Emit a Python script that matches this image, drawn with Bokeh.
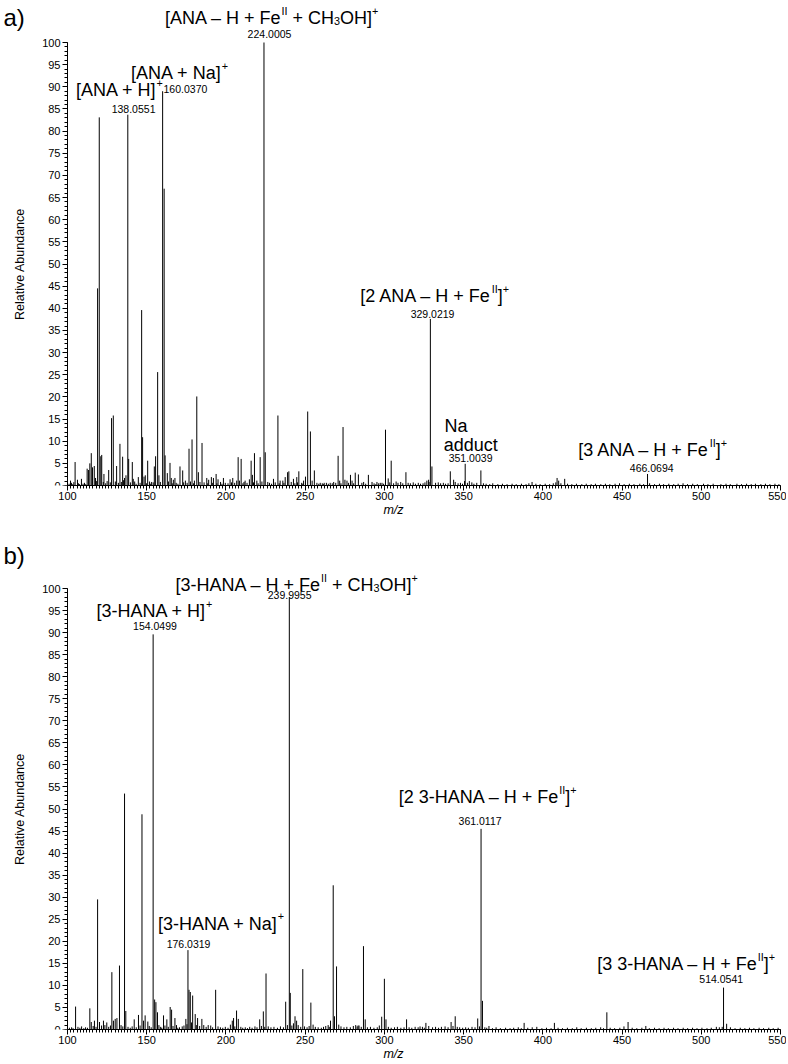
from bokeh.plotting import figure
from bokeh.layouts import column
from bokeh.models import Range1d, SingleIntervalTicker, Label
from bokeh.embed import file_html
from bokeh.resources import INLINE

FONT = "Liberation Sans"

# ---------------- data: spectrum a (ANA) ----------------
A_MZ = [101.9, 104.0, 104.8, 106.3, 108.8, 112.4, 113.3, 114.1, 115.0, 115.8, 116.9, 117.7,
        119.0, 120.04, 121.0, 121.6, 123.0, 126.0, 127.8, 128.9, 131.0, 133.1, 134.8, 136.0,
        136.9, 138.06, 138.6, 140.9, 141.5, 144.7, 146.8, 147.4, 148.3, 149.1, 150.6, 153.1,
        154.8, 155.6, 156.9, 157.7, 160.04, 161.0, 161.6, 163.0, 164.7, 165.5, 166.8, 167.8,
        171.0, 172.7, 174.4, 176.7, 178.6, 180.1, 181.6, 182.6, 184.9, 187.9, 189.1, 190.8,
        192.1, 193.8, 195.0, 198.4, 202.6, 204.3, 206.8, 207.7, 208.5, 209.6, 212.1, 214.8,
        215.9, 216.7, 218.0, 219.5, 221.6, 224.0, 224.8, 226.4, 230.0, 232.8, 234.2, 235.9,
        237.4, 238.9, 239.7, 242.6, 244.7, 246.0, 249.0, 250.2, 251.6, 253.3, 254.4, 255.8,
        259.5, 262.0, 265.8, 268.0, 270.8, 271.8, 273.9, 275.1, 276.4, 278.6, 279.6, 281.6,
        283.6, 286.9, 289.9, 292.2, 295.3, 297.4, 300.7, 302.4, 304.3, 313.6, 326.8, 327.9,
        329.02, 330.0, 341.6, 343.7, 350.6, 351.0, 353.6, 360.9, 393.2, 409.0, 410.0, 413.8,
        466.07]
A_INT = [1.1, 0.75, 5.3, 1.3, 1.5, 3.8, 3.5, 5.0, 7.3, 4.1, 4.4, 1.7,
         44.5, 83.1, 6.6, 6.9, 2.6, 3.5, 15.2, 15.8, 4.4, 9.4, 6.5, 1.7,
         2.3, 83.7, 6.0, 5.3, 1.5, 1.9, 39.6, 10.9, 2.0, 2.3, 5.6, 0.8,
         4.3, 6.6, 25.6, 2.3, 89.0, 67.0, 6.8, 2.8, 5.1, 1.7, 1.3, 1.7,
         4.3, 3.4, 1.1, 8.3, 10.4, 1.1, 20.1, 3.0, 9.6, 1.7, 1.3, 1.9,
         1.7, 2.6, 1.4, 1.7, 1.4, 1.7, 1.1, 6.4, 1.1, 6.0, 1.1, 1.4,
         5.6, 2.4, 7.3, 1.1, 6.4, 100.0, 7.5, 0.8, 1.5, 15.8, 1.1, 1.1,
         1.9, 3.0, 3.2, 1.5, 1.9, 3.2, 1.1, 2.0, 16.7, 12.2, 1.1, 3.4,
         0.6, 0.6, 0.6, 0.8, 6.7, 1.1, 13.2, 1.3, 1.1, 2.4, 1.1, 2.9,
         2.5, 0.8, 2.4, 0.8, 0.8, 0.6, 12.6, 1.6, 5.6, 3.0, 1.1, 1.3,
         37.6, 4.3, 3.2, 1.3, 1.0, 4.9, 1.0, 3.4, 0.8, 1.7, 1.1, 1.5,
         2.6]
A_NOISE_MZ = [101.0, 102.5, 103.3, 106.9, 107.6, 109.8, 110.7, 111.5, 118.2, 122.6, 124.1, 125.0,
              127.0, 130.2, 132.1, 134.0, 135.4, 139.7, 142.4, 143.3, 145.8, 149.8, 151.8, 152.5,
              154.1, 158.6, 163.7, 166.1, 168.6, 169.7, 173.3, 175.5, 177.6, 179.5, 183.6, 186.2,
              188.5, 191.4, 194.3, 196.6, 197.5, 199.6, 201.3, 203.5, 205.5, 210.7, 211.4, 213.3,
              217.4, 220.3, 222.7, 227.5, 228.8, 231.1, 233.6, 236.6, 241.2, 243.5, 245.2, 247.8,
              248.5, 257.4, 258.6, 260.8, 261.5, 263.4, 264.6, 267.1, 269.3, 272.6, 277.4, 280.6,
              285.8, 288.2, 293.5, 294.6, 296.4, 298.5, 299.5, 303.4, 305.8, 307.4, 308.6, 310.3,
              311.6, 315.0, 316.4, 318.2, 319.6, 321.4, 322.8, 324.4, 325.6, 328.2, 332.3, 334.0,
              335.5, 337.2, 338.6, 340.2, 344.7, 346.5, 348.0, 349.3, 352.4, 355.2, 356.5, 358.3,
              362.5, 364.2, 366.5, 368.4, 371.6, 374.5, 377.4, 380.6, 383.2, 386.5, 389.4, 391.2,
              395.6, 398.3, 401.5, 404.3, 406.6, 408.2, 411.4, 415.6, 418.3, 421.2, 424.6, 427.4,
              430.5, 433.2, 436.6, 439.5, 442.3, 445.6, 448.4, 451.3, 454.6, 457.5, 461.2, 463.6,
              467.4, 470.5, 473.6, 476.2, 479.5, 482.6, 485.4, 488.5, 491.3, 494.6, 497.5, 501.4,
              504.2, 507.5, 512.4, 515.6, 518.3, 522.5, 525.4, 528.6, 531.5, 534.2, 537.6, 540.5,
              543.3, 546.5, 549.0]
A_NOISE_INT = [0.4, 0.6, 0.3, 0.5, 0.3, 0.4, 0.6, 0.3, 1.0, 0.8, 0.5, 1.0,
               0.7, 0.9, 0.6, 0.8, 1.2, 0.7, 0.9, 0.4, 0.6, 0.5, 0.9, 0.4,
               0.7, 0.8, 0.9, 0.5, 0.6, 0.4, 0.7, 0.6, 0.9, 0.5, 0.8, 0.7,
               0.5, 0.6, 0.5, 0.8, 0.4, 0.6, 0.5, 0.7, 0.6, 0.5, 0.8, 0.6,
               0.7, 0.5, 0.9, 0.6, 0.4, 0.7, 0.5, 0.6, 0.8, 0.5, 0.7, 0.6,
               0.4, 0.6, 0.4, 0.5, 0.3, 0.6, 0.4, 0.5, 0.6, 0.5, 0.6, 0.5,
               0.6, 0.4, 0.5, 0.3, 0.5, 0.6, 0.4, 0.7, 0.5, 0.9, 0.6, 0.8,
               0.5, 0.6, 0.5, 0.7, 0.4, 0.6, 0.4, 0.5, 0.7, 0.8, 0.6, 0.7,
               0.5, 0.6, 0.4, 0.5, 0.8, 0.5, 0.6, 0.4, 0.6, 0.7, 0.4, 0.6,
               0.5, 0.4, 0.3, 0.5, 0.3, 0.4, 0.3, 0.4, 0.3, 0.4, 0.3, 0.5,
               0.4, 0.3, 0.4, 0.3, 0.5, 0.7, 0.5, 0.4, 0.3, 0.4, 0.3, 0.4,
               0.3, 0.4, 0.3, 0.4, 0.3, 0.4, 0.5, 0.3, 0.4, 0.3, 0.4, 0.3,
               0.5, 0.3, 0.4, 0.3, 0.4, 0.3, 0.4, 0.5, 0.3, 0.4, 0.3, 0.4,
               0.3, 0.4, 0.3, 0.4, 0.3, 0.4, 0.3, 0.4, 0.3, 0.4, 0.3, 0.4,
               0.3, 0.4, 0.3]

# ---------------- data: spectrum b (3-HANA) ----------------
B_MZ = [105.1, 114.1, 115.0, 117.0, 119.0, 120.2, 122.7, 124.8, 128.0, 129.0, 130.1, 131.2,
        132.8, 136.0, 136.8, 142.1, 144.8, 147.0, 148.0, 149.0, 150.7, 154.05, 155.0, 155.8,
        156.8, 160.6, 162.7, 164.8, 165.7, 167.8, 174.7, 176.03, 176.7, 177.5, 179.0, 180.6,
        182.1, 184.8, 193.5, 204.0, 204.8, 206.7, 207.8, 221.3, 223.6, 225.3, 237.7, 240.0,
        240.6, 243.6, 248.5, 253.6, 266.0, 267.7, 268.5, 269.8, 281.9, 284.0, 286.8, 287.9,
        298.3, 300.0, 301.0, 314.0, 326.2, 342.1, 344.7, 358.9, 361.01, 361.9, 366.0, 388.2,
        407.3, 440.4, 453.8, 465.0, 514.05, 516.0]
B_INT = [5.2, 4.8, 1.7, 2.0, 29.5, 1.7, 2.0, 1.6, 13.0, 2.0, 2.4, 2.6,
         14.5, 53.5, 4.2, 2.3, 3.3, 48.8, 2.0, 3.2, 1.8, 89.6, 6.8, 6.2,
         3.9, 3.2, 2.3, 5.1, 4.5, 2.6, 2.4, 18.0, 9.0, 8.5, 7.7, 3.5,
         2.6, 2.4, 9.0, 2.0, 2.6, 4.3, 2.4, 2.3, 4.1, 12.7, 6.3, 98.0,
         8.3, 3.0, 13.7, 6.1, 2.0, 32.7, 3.0, 14.3, 1.0, 0.9, 18.9, 2.3,
         2.9, 11.5, 2.3, 2.3, 1.5, 1.7, 3.0, 2.5, 45.5, 6.5, 0.8, 1.5,
         1.5, 3.9, 1.7, 0.8, 9.5, 1.3]
B_NOISE_MZ = [101.2, 102.6, 103.5, 106.6, 107.8, 108.9, 110.3, 111.4, 112.6, 116.2, 118.0, 121.5,
              123.6, 126.0, 127.1, 133.8, 134.9, 138.2, 139.6, 140.8, 143.4, 145.8, 151.6, 152.8,
              157.7, 158.8, 159.5, 161.5, 163.6, 166.6, 168.8, 169.6, 170.7, 172.4, 173.5, 175.4,
              178.3, 181.3, 183.4, 186.0, 187.5, 188.8, 190.4, 191.6, 195.0, 196.5, 198.0, 199.6,
              201.3, 202.8, 205.6, 209.4, 210.6, 212.2, 213.6, 215.0, 216.5, 218.3, 219.6, 222.4,
              224.5, 226.7, 228.4, 230.3, 232.5, 234.4, 236.3, 238.8, 241.6, 242.6, 244.6, 245.6,
              247.2, 249.6, 251.2, 252.5, 255.0, 256.4, 258.2, 260.2, 261.6, 263.0, 264.5, 265.2,
              271.2, 272.6, 274.5, 276.3, 278.5, 280.4, 282.8, 283.4, 285.4, 289.3, 291.2, 293.4,
              295.5, 296.8, 302.5, 304.3, 306.4, 308.2, 310.4, 312.4, 315.6, 317.3, 319.4, 321.3,
              322.5, 324.0, 325.2, 328.0, 330.4, 332.3, 334.2, 336.0, 338.3, 340.2, 343.3, 346.0,
              347.5, 349.4, 351.3, 353.0, 355.3, 357.2, 360.0, 363.4, 364.6, 368.2, 370.5, 373.2,
              376.5, 379.3, 381.6, 384.5, 386.4, 390.5, 393.3, 396.2, 399.4, 402.3, 405.2, 409.6,
              412.4, 415.5, 418.6, 421.4, 424.2, 427.5, 430.6, 433.4, 436.5, 438.3, 442.5, 445.3,
              448.6, 451.2, 456.4, 459.3, 462.5, 467.2, 470.5, 473.4, 476.5, 479.2, 482.5, 485.3,
              488.6, 491.4, 494.5, 497.3, 500.4, 503.6, 506.3, 509.5, 511.4, 513.2, 518.4, 521.3,
              524.6, 527.5, 530.4, 533.2, 536.5, 539.3, 542.6, 545.4, 548.5]
B_NOISE_INT = [0.4, 0.5, 0.3, 0.6, 0.4, 0.7, 0.3, 0.5, 0.4, 0.8, 0.6, 0.9,
               1.0, 0.6, 0.9, 1.0, 0.7, 0.6, 0.4, 0.7, 0.5, 0.9, 0.8, 0.5,
               1.0, 0.6, 0.4, 0.9, 0.6, 0.8, 1.0, 0.4, 0.5, 0.7, 0.9, 1.2,
               1.6, 1.0, 0.8, 1.0, 0.6, 1.0, 0.9, 0.5, 0.7, 0.5, 0.4, 0.6,
               0.4, 1.1, 0.7, 0.6, 0.4, 0.5, 0.3, 0.6, 0.4, 0.7, 0.5, 0.8,
               0.6, 0.7, 0.5, 0.6, 0.4, 0.7, 0.5, 1.0, 0.9, 1.4, 2.0, 1.0,
               0.6, 0.7, 0.5, 0.8, 1.1, 0.6, 0.5, 0.4, 0.6, 0.8, 1.0, 0.6,
               1.1, 0.7, 0.5, 0.6, 0.5, 0.8, 0.7, 0.9, 0.6, 0.5, 0.6, 0.4,
               0.5, 0.9, 0.6, 0.4, 0.5, 0.6, 0.4, 0.5, 0.5, 0.4, 0.6, 0.5,
               0.7, 0.6, 0.4, 0.8, 0.5, 0.6, 0.4, 0.6, 0.7, 0.5, 0.8, 0.6,
               0.5, 0.4, 0.5, 0.4, 0.6, 0.5, 0.7, 0.5, 0.4, 0.3, 0.5, 0.3,
               0.4, 0.3, 0.4, 0.5, 0.3, 0.4, 0.5, 0.6, 0.3, 0.4, 0.3, 0.4,
               0.3, 0.4, 0.3, 0.5, 0.3, 0.4, 0.3, 0.4, 0.5, 0.3, 0.4, 0.3,
               0.4, 0.7, 0.4, 0.3, 0.4, 0.3, 0.4, 0.3, 0.4, 0.3, 0.4, 0.3,
               0.4, 0.3, 0.4, 0.3, 0.4, 0.3, 0.4, 0.6, 0.5, 0.6, 0.5, 0.3,
               0.4, 0.3, 0.4, 0.3, 0.4, 0.3, 0.4, 0.3, 0.4]

# ---------------- axis / label texts ----------------
X_BOUNDS = (100, 550)
Y_BOUNDS = (0, 100)
Y_LABEL = "Relative Abundance"
X_LABEL = "m/z"
PANEL_TAGS = ["a)", "b)"]
# ion labels as (text, style) pieces; "^" superscript, "_" subscript
A_IONS = [
    [("[ANA – H + Fe", ""), ("II", "^"), (" + CH", ""), ("3", "_"), ("OH]", ""), ("+", "^")],
    [("[ANA + Na]", ""), ("+", "^")],
    [("[ANA + H]", ""), ("+", "^")],
    [("[2 ANA – H + Fe", ""), ("II", "^"), ("]", ""), ("+", "^")],
    [("Na", "")],
    [("adduct", "")],
    [("[3 ANA – H + Fe", ""), ("II", "^"), ("]", ""), ("+", "^")],
]
A_MASSES = ["224.0005", "160.0370", "138.0551", "329.0219", "351.0039", "466.0694"]
B_IONS = [
    [("[3-HANA – H + Fe", ""), ("II", "^"), (" + CH", ""), ("3", "_"), ("OH]", ""), ("+", "^")],
    [("[3-HANA + H]", ""), ("+", "^")],
    [("[3-HANA + Na]", ""), ("+", "^")],
    [("[2 3-HANA – H + Fe", ""), ("II", "^"), ("]", ""), ("+", "^")],
    [("[3 3-HANA – H + Fe", ""), ("II", "^"), ("]", ""), ("+", "^")],
]
B_MASSES = ["239.9955", "154.0499", "176.0319", "361.0117", "514.0541"]

# ---------------- layout (pixels) ----------------
FIG_W = 786
AXIS_X_PX = 67          # where m/z 100 sits
AXIS_END_PX = 780       # where m/z 550 sits
PX_PER_MZ = (AXIS_END_PX - AXIS_X_PX) / (X_BOUNDS[1] - X_BOUNDS[0])
X_START = X_BOUNDS[0] - AXIS_X_PX / PX_PER_MZ
X_END = X_BOUNDS[1] + (FIG_W - AXIS_END_PX) / PX_PER_MZ

# Arial / Liberation Sans advance widths (per 1000 em)
W = {" ": 278, ".": 278, "[": 278, "]": 278, "+": 584, "–": 556, "-": 333, ")": 333,
     "A": 667, "N": 722, "H": 722, "F": 611, "C": 722, "O": 778, "I": 278,
     "a": 556, "b": 556, "e": 556, "d": 556, "u": 556, "c": 500, "t": 278}


def tw(s, size):
    return sum(W.get(ch, 556) for ch in s) * size / 1000.0


def label(p, x, y, text, size, dx=0.0, dy=0.0, align="left"):
    p.add_layout(Label(x=x, y=y, x_offset=dx, y_offset=dy, text=text,
                       text_font=FONT, text_font_size=f"{size:.1f}px",
                       text_baseline="alphabetic", text_align=align,
                       text_color="black"))


def rich(p, x, y, parts, size, align="center"):
    small = size * 0.6
    widths = [tw(t, small if s else size) for t, s in parts]
    off = -sum(widths) / 2 if align == "center" else 0.0
    for (t, s), w in zip(parts, widths):
        fs = small if s else size
        dy = size * 0.40 if s == "^" else (-size * 0.17 if s == "_" else 0.0)
        lead = len(t) - len(t.lstrip(" "))
        core = t.strip(" ")
        label(p, x, y, core, fs, dx=off + tw(" " * lead, fs), dy=dy)
        off += w


def make_fig(top_px, plot_px, bottom_px):
    """top_px: space above y=100 ; plot_px: height of 0..100 ; bottom_px: x-axis area"""
    y_end = Y_BOUNDS[1] + top_px * (Y_BOUNDS[1] - Y_BOUNDS[0]) / plot_px
    p = figure(width=FIG_W, height=top_px + plot_px + bottom_px,
               x_range=Range1d(X_START, X_END), y_range=Range1d(Y_BOUNDS[0], y_end),
               output_backend="svg", toolbar_location=None,
               min_border_left=0, min_border_right=0, min_border_top=0,
               min_border_bottom=bottom_px)
    p.outline_line_color = None
    p.xgrid.visible = False
    p.ygrid.visible = False
    p.background_fill_color = "white"
    p.border_fill_color = "white"
    p.xaxis.ticker = SingleIntervalTicker(interval=50, num_minor_ticks=25)
    p.yaxis.ticker = SingleIntervalTicker(interval=5, num_minor_ticks=5)
    p.xaxis.bounds = X_BOUNDS
    p.yaxis.bounds = Y_BOUNDS
    p.yaxis.fixed_location = X_BOUNDS[0]
    for ax in (p.xaxis, p.yaxis):
        ax.axis_line_color = "black"
        ax.major_tick_line_color = "black"
        ax.minor_tick_line_color = "black"
        ax.major_tick_in = 0
        ax.major_tick_out = 5
        ax.minor_tick_in = 0
        ax.minor_tick_out = 3
        ax.major_label_text_font = FONT
        ax.major_label_text_font_size = "11px"
        ax.major_label_text_color = "black"
        ax.major_label_standoff = 2
        ax.axis_label_text_font = FONT
        ax.axis_label_text_color = "black"
    p.yaxis.axis_label = Y_LABEL
    p.yaxis.axis_label_text_font_style = "normal"
    p.yaxis.axis_label_text_font_size = "12.5px"
    p.yaxis.axis_label_standoff = 12
    p.xaxis.axis_label = X_LABEL
    p.xaxis.axis_label_text_font_style = "italic"
    p.xaxis.axis_label_text_font_size = "12.5px"
    p.xaxis.axis_label_standoff = 0
    p.xaxis.major_label_standoff = 1
    return p


def draw(p, mz, inten, nmz, nint):
    p.segment(x0=nmz, y0=[0] * len(nmz), x1=nmz, y1=nint, line_color="black", line_width=1)
    p.segment(x0=mz, y0=[0] * len(mz), x1=mz, y1=inten, line_color="black", line_width=1)


big, num = 18, 10.5

# ---------------- panel a ----------------
pa = make_fig(42, 443, 37)
draw(pa, A_MZ, A_INT, A_NOISE_MZ, A_NOISE_INT)
label(pa, 59.6, 105.6, PANEL_TAGS[0], 24)
rich(pa, 228.8, 105.5, A_IONS[0], big)
label(pa, 227.5, 102.0, A_MASSES[0], num, align="center")
rich(pa, 170.7, 93.1, A_IONS[1], big)
label(pa, 160.6, 89.4, A_MASSES[1], num)
rich(pa, 132.8, 89.3, A_IONS[2], big)
label(pa, 141.7, 84.9, A_MASSES[2], num, align="center")
rich(pa, 331.7, 42.8, A_IONS[3], big)
label(pa, 330.4, 38.8, A_MASSES[3], num, align="center")
rich(pa, 338.0, 13.4, A_IONS[4], big, align="left")
rich(pa, 337.4, 9.2, A_IONS[5], big, align="left")
label(pa, 354.4, 6.1, A_MASSES[4], num, align="center")
rich(pa, 469.3, 8.0, A_IONS[6], big)
label(pa, 468.7, 3.9, A_MASSES[5], num, align="center")

# ---------------- panel b ----------------
pb = make_fig(66, 441, 35)
draw(pb, B_MZ, B_INT, B_NOISE_MZ, B_NOISE_INT)
label(pb, 59.6, 107.4, PANEL_TAGS[1], 24)
rich(pb, 244.6, 100.7, B_IONS[0], big)
label(pb, 240.2, 98.5, B_MASSES[0], num, align="center")
rich(pb, 154.9, 94.8, B_IONS[1], big)
label(pb, 155.2, 91.5, B_MASSES[1], num, align="center")
rich(pb, 196.9, 24.0, B_IONS[2], big)
label(pb, 176.4, 19.3, B_MASSES[2], num, align="center")
rich(pb, 365.2, 52.7, B_IONS[3], big)
label(pb, 360.4, 47.2, B_MASSES[3], num, align="center")
rich(pb, 490.5, 14.8, B_IONS[4], big)
label(pb, 512.6, 11.4, B_MASSES[4], num, align="center")

layout = column(pa, pb, spacing=0)
open("out.html", "w").write(file_html(layout, INLINE))
